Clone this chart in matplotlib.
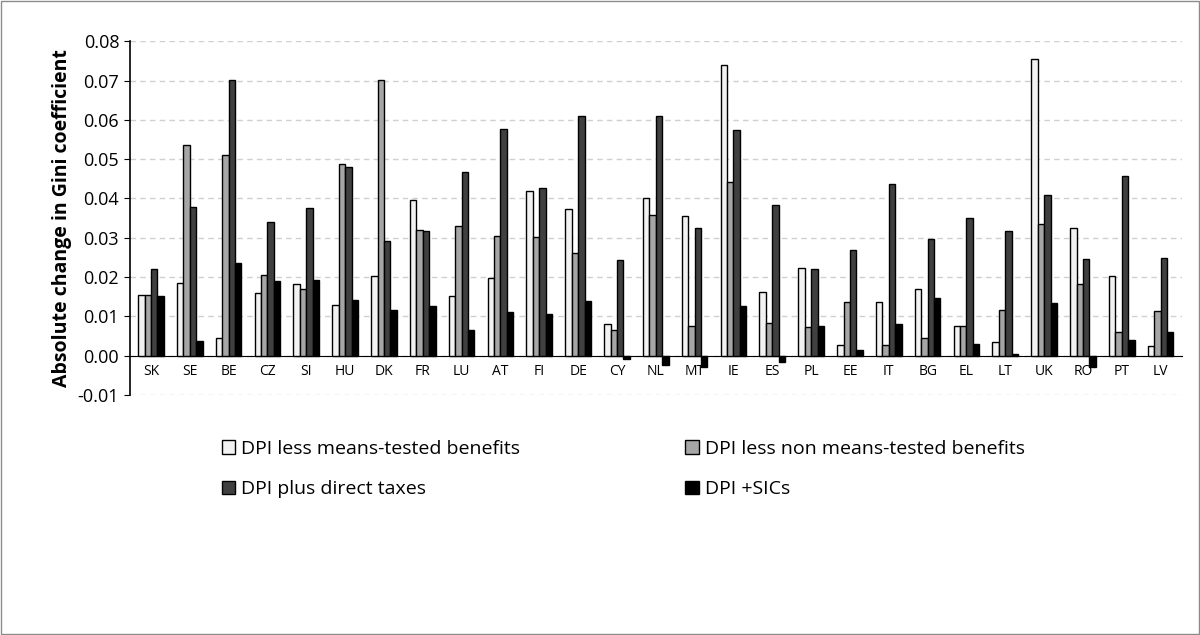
import numpy as np
import matplotlib.pyplot as plt
from matplotlib.patches import Rectangle

countries = ["SK", "SE", "BE", "CZ", "SI", "HU", "DK", "FR", "LU", "AT", "FI", "DE", "CY", "NL",
             "MT", "IE", "ES", "PL", "EE", "IT", "BG", "EL", "LT", "UK", "RO", "PT", "LV"]
means_tested = [0.0155, 0.0185, 0.0045, 0.0160, 0.0183, 0.0128, 0.0203, 0.0396, 0.0152, 0.0198,
                0.0420, 0.0372, 0.0080, 0.0402, 0.0355, 0.0740, 0.0162, 0.0222, 0.0028, 0.0137,
                0.0169, 0.0076, 0.0036, 0.0755, 0.0325, 0.0203, 0.0024]
non_means_tested = [0.0155, 0.0537, 0.0510, 0.0204, 0.0170, 0.0487, 0.0701, 0.0320, 0.0331, 0.0304,
                    0.0302, 0.0260, 0.0066, 0.0358, 0.0075, 0.0441, 0.0082, 0.0073, 0.0136, 0.0026,
                    0.0045, 0.0075, 0.0115, 0.0336, 0.0183, 0.0061, 0.0114]
direct_taxes = [0.0220, 0.0378, 0.0702, 0.0340, 0.0376, 0.0480, 0.0292, 0.0316, 0.0468, 0.0577,
                0.0427, 0.0610, 0.0243, 0.0611, 0.0325, 0.0575, 0.0384, 0.0221, 0.0269, 0.0436,
                0.0296, 0.0351, 0.0316, 0.0410, 0.0246, 0.0456, 0.0249]
sics = [0.0152, 0.0038, 0.0235, 0.0190, 0.0193, 0.0142, 0.0116, 0.0127, 0.0066, 0.0112,
        0.0107, 0.0140, -0.0008, -0.0025, -0.0030, 0.0127, -0.0017, 0.0075, 0.0015, 0.0081,
        0.0148, 0.0030, 0.0004, 0.0135, -0.0030, 0.0041, 0.0060]

series = [
    ("DPI less means-tested benefits", means_tested, "#f2f2f2"),
    ("DPI less non means-tested benefits", non_means_tested, "#a6a6a6"),
    ("DPI plus direct taxes", direct_taxes, "#404040"),
    ("DPI +SICs", sics, "#000000"),
]

plt.rcParams["font.family"] = ["Open Sans", "DejaVu Sans"]

fig = plt.figure(figsize=(12, 6.35), dpi=100)
fig.patches.append(Rectangle((0.001, 0.001), 0.998, 0.998, transform=fig.transFigure,
                             fill=False, edgecolor="#8c8c8c", linewidth=1))
ax = fig.add_axes([0.108, 0.378, 0.877, 0.557])

x = np.arange(len(countries))
w = 0.165
for i, (name, vals, col) in enumerate(series):
    ax.bar(x + (i - 1.5) * w, vals, w, color=col, edgecolor="black", linewidth=1,
           label=name, zorder=3)

ax.set_xlim(-0.55, len(countries) - 0.45)
ax.set_ylim(-0.01, 0.08)
ticks = np.arange(-0.01, 0.0801, 0.01)
ax.set_yticks(ticks)
ax.set_yticklabels([f"{v:.2f}" for v in ticks], fontsize=13)
ax.yaxis.grid(True, color="#d0d0d0", linestyle=(0, (4, 3)), linewidth=1, zorder=0)
ax.tick_params(axis="y", length=4)
ax.tick_params(axis="x", length=0, pad=6)
ax.set_xticks(x)
ax.set_xticklabels(countries, fontsize=14)
ax.spines["top"].set_visible(False)
ax.spines["right"].set_visible(False)
ax.spines["bottom"].set_position(("data", 0))
ax.spines["left"].set_linewidth(1.2)
ax.set_ylabel("Absolute change in Gini coefficient", fontsize=14, fontweight="bold")

handles, labels = ax.get_legend_handles_labels()
order = [0, 2, 1, 3]
fig.legend([handles[i] for i in order], [labels[i] for i in order], loc="upper left",
           bbox_to_anchor=(0.17, 0.335), ncol=2, frameon=False, fontsize=14,
           handlelength=0.7, handleheight=0.7, columnspacing=8.5, labelspacing=1.15,
           handletextpad=0.3)

fig.savefig("out.png", dpi=100)
